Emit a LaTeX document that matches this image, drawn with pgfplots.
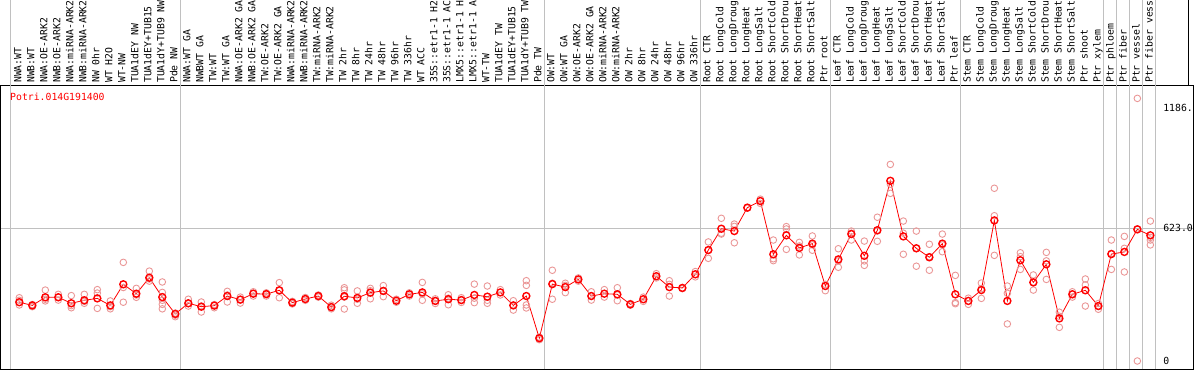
\documentclass[border=0pt]{standalone}
\usepackage{pgfplots}
\pgfplotsset{compat=1.18}
\usepackage{fontspec}
\newfontfamily\mono{DejaVu Sans Mono}
\definecolor{rep}{RGB}{234,150,150}
\definecolor{gridc}{RGB}{192,192,192}
\newcommand{\lab}{\mono\fontsize{9.8}{10}\selectfont}
\begin{document}
\begin{tikzpicture}[x=1pt,y=1pt]
\useasboundingbox (0,0) rectangle (1194,370);
\begin{axis}[at={(1pt,1pt)}, anchor=south west, scale only axis,
  width=1192pt, height=284pt,
  xmin=-1.408, xmax=90.28, ymin=-37.6, ymax=1295.8, clip=false,
  axis line style={black, line width=1pt},
  xtick={0,...,87}, major tick length=0pt, ytick=\empty,
  xticklabel pos=upper, xticklabel shift=2pt,
  xticklabel style={rotate=90, anchor=mid west, inner sep=0pt, font=\lab},
  xticklabels={NWA:WT,NWB:WT,NWA:OE-ARK2,NWB:OE-ARK2,NWA:miRNA-ARK2,NWB:miRNA-ARK2,NW 0hr,WT H2O,WT-NW,TUA1dEY NW,TUA1dEY+TUB15,TUA1dY+TUB9 NW,Pde NW,
  NWA:WT GA,NWBWT GA,TW:WT,TW:WT GA,NWA:OE-ARK2 GA,NWB:OE-ARK2 GA,TW:OE-ARK2,TW:OE-ARK2 GA,NWA:miRNA-ARK2,NWB:miRNA-ARK2,TW:miRNA-ARK2,TW:miRNA-ARK2,TW 2hr,TW 8hr,TW 24hr,TW 48hr,TW 96hr,TW 336hr,WT ACC,35S::etr1-1 H2,35S::etr1-1 AC,LMX5::etr1-1 H,LMX5::etr1-1 A,WT-TW,TUA1dEY TW,TUA1dEY+TUB15,TUA1dY+TUB9 TW,Pde TW,
  OW:WT,OW:WT GA,OW:OE-ARK2,OW:OE-ARK2 GA,OW:miRNA-ARK2,OW:miRNA-ARK2,OW 2hr,OW 8hr,OW 24hr,OW 48hr,OW 96hr,OW 336hr,
  Root CTR,Root LongCold,Root LongDroug,Root LongHeat,Root LongSalt,Root ShortCold,Root ShortDrou,Root ShortHeat,Root ShortSalt,Ptr root,
  Leaf CTR,Leaf LongCold,Leaf LongDroug,Leaf LongHeat,Leaf LongSalt,Leaf ShortCold,Leaf ShortDrou,Leaf ShortHeat,Leaf ShortSalt,Ptr leaf,
  Stem CTR,Stem LongCold,Stem LongDroug,Stem LongHeat,Stem LongSalt,Stem ShortCold,Stem ShortDrou,Stem ShortHeat,Stem ShortSalt,Ptr shoot,Ptr xylem,
  Ptr phloem,Ptr fiber,Ptr vessel,Ptr fiber vess},
]
% grid lines
\draw[gridc, line width=1pt] (axis cs:-1.408,623) -- (axis cs:90.28,623);
\foreach \gx in {-0.715,12.38,40.38,52.38,62.38,72.38,83.38,84.38,85.38,86.38,87.38}{
  \edef\tmp{\noexpand\draw[gridc, line width=1pt] (axis cs:\gx,-37.6) -- (axis cs:\gx,1700);}\tmp
}
\draw[black, line width=1pt] (axis cs:89.9,1295.8) -- (axis cs:89.9,1700);
% replicates
\addplot[only marks, mark=o, mark size=3.3pt, rep, mark options={line width=0.9pt}] coordinates {
(0,297)(0,263)(0,285)(1,258)(1,265)(1,255)(2,333)(2,282)(2,290)(3,313)(3,286)(3,300)
(4,307)(4,250)(4,260)(5,313)(5,271)(5,280)(6,335)(6,247)(6,319)(7,282)(7,245)(7,255)
(8,463)(8,276)(8,345)(9,341)(9,299)(9,310)(10,422)(10,375)(10,385)
(11,371)(11,322)(11,266)(11,245)(11,285)(12,208)(12,215)(12,225)(13,290)(13,258)(13,270)
(14,277)(14,230)(14,258)(15,265)(15,250)(15,262)(16,327)(16,277)(16,310)(17,300)(17,272)(17,290)
(18,325)(18,305)(18,318)(19,320)(19,305)(19,314)(20,368)(20,297)(20,330)(21,280)(21,268)(21,274)
(22,298)(22,285)(23,310)(23,300)(24,262)(24,245)(24,253)(25,344)(25,334)(25,244)(25,300)
(26,329)(26,271)(26,290)(27,341)(27,292)(27,330)(28,354)(28,302)(28,330)(29,290)(29,276)
(30,320)(30,305)(31,369)(31,285)(31,315)(32,292)(32,270)(32,282)(33,311)(33,264)(33,295)
(34,297)(34,275)(34,286)(35,361)(35,274)(35,295)(36,352)(36,271)(36,285)(37,335)(37,310)
(38,283)(38,239)(38,261)(39,377)(39,355)(39,263)(39,249)(40,110)(40,100)(40,112)
(41,426)(41,290)(41,365)(42,365)(42,321)(42,355)(43,390)(43,375)(44,325)(44,286)(44,305)
(45,335)(45,300)(46,344)(46,283)(46,310)(47,270)(47,262)(48,300)(48,280)(49,410)(49,390)
(50,377)(50,305)(50,360)(51,343)(51,340)(52,420)(52,395)(53,559)(53,482)(53,520)
(54,670)(54,596)(54,600)(55,643)(55,555)(55,632)(56,720)(56,718)(57,760)(57,740)
(58,568)(58,471)(58,480)(59,631)(59,524)(59,620)(60,557)(60,498)(60,540)(61,587)(61,520)(61,545)
(62,330)(62,360)(63,527)(63,440)(63,470)(64,610)(64,568)(64,600)(65,563)(65,449)(65,470)
(66,675)(66,562)(66,610)(67,923)(67,787)(67,830)(68,657)(68,501)(68,600)(69,610)(69,445)(69,530)
(70,548)(70,426)(70,490)(71,596)(71,513)(71,545)(72,402)(72,274)(72,269)(73,295)(73,266)
(74,366)(74,294)(74,340)(75,811)(75,682)(75,496)(76,352)(76,318)(76,174)(77,508)(77,430)(77,490)
(78,404)(78,333)(78,370)(79,510)(79,383)(79,470)(80,229)(80,158)(80,210)(81,325)(81,300)(81,315)
(82,385)(82,357)(82,258)(83,270)(83,243)(83,258)(84,568)(84,430)(84,505)(85,585)(85,529)(85,418)
(86,1233)(86,0)(86,620)(87,657)(87,568)(87,545)(87,580)
};
% means
\addplot[red, line width=0.8pt, mark=o, mark size=3.5pt, mark options={line width=1.4pt}] coordinates {
(0,276)(1,261)(2,299)(3,299)(4,271)(5,285)(6,294)(7,261)(8,360)(9,316)(10,391)(11,300)(12,221)
(13,271)(14,255)(15,260)(16,305)(17,288)(18,316)(19,314)(20,332)(21,274)(22,291)(23,305)(24,253)
(25,304)(26,296)(27,321)(28,329)(29,283)(30,313)(31,322)(32,282)(33,290)(34,286)(35,310)(36,302)
(37,322)(38,261)(39,305)(40,107)(41,361)(42,347)(43,383)(44,305)(45,316)(46,313)(47,266)(48,290)
(49,398)(50,347)(51,343)(52,407)(53,521)(54,621)(55,610)(56,720)(57,751)(58,501)(59,590)(60,531)
(61,551)(62,352)(63,477)(64,596)(65,494)(66,614)(67,846)(68,585)(69,529)(70,487)(71,551)(72,313)
(73,282)(74,333)(75,660)(76,282)(77,473)(78,369)(79,454)(80,200)(81,313)(82,332)(83,258)(84,502)
(85,512)(86,618)(87,590)
};
\node[anchor=west, inner sep=0pt, text=red, font=\lab] at (axis cs:-0.715,1238) {Potri.014G191400};
\node[anchor=west, inner sep=0pt, font=\lab] at (axis cs:87.98,1186) {1186.};
\node[anchor=west, inner sep=0pt, font=\lab] at (axis cs:87.98,623) {623.0};
\node[anchor=west, inner sep=0pt, font=\lab] at (axis cs:87.98,0) {0};
\end{axis}
\end{tikzpicture}
\end{document}
